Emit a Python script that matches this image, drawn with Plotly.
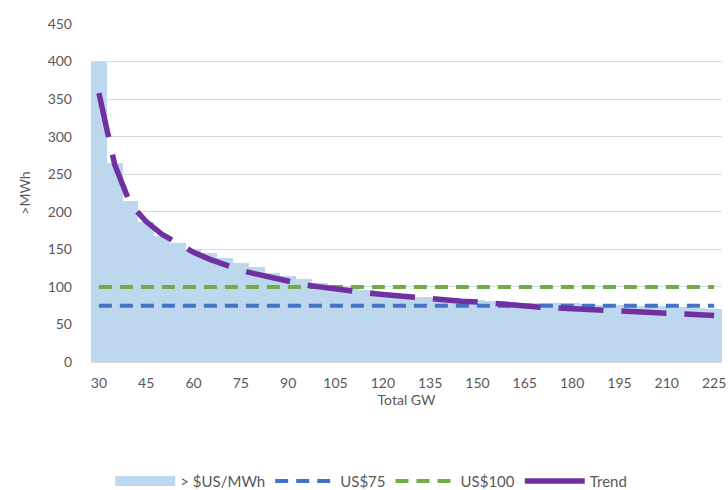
import plotly.graph_objects as go

gw = list(range(30, 230, 5))
price = [400, 265, 215, 186, 168, 158, 150, 145, 138, 132,
         126, 118, 114, 110, 105, 102, 100, 96, 89, 88,
         87, 86, 85, 84, 82, 81, 80, 79, 79, 78,
         78, 77, 76, 76, 75, 75, 74, 73, 72, 70]
trend = [358, 263, 210, 187, 170, 158, 146, 137, 129, 122,
         117, 112, 107, 103, 100, 97, 95, 92, 90, 88,
         86, 85, 83, 81, 80, 78, 77, 75, 73, 72,
         71, 70, 69, 68, 67, 66, 65, 64, 63, 62]
us75 = [75] * len(gw)
us100 = [100] * len(gw)
xticks = list(range(30, 226, 15))
yticks = list(range(0, 451, 50))

FONT = "Lato, 'Open Sans', sans-serif"
GREY = "#595959"
AREA = "#BDD7EE"

fig = go.Figure()
fig.add_trace(go.Bar(x=gw, y=price, width=5, name="> $US/MWh", showlegend=False,
                     marker=dict(color=AREA, line=dict(width=0))))
# legend swatch for the area series
fig.add_trace(go.Scatter(x=[None], y=[None], mode="lines", name="> $US/MWh",
                         legendgroup="a", line=dict(color=AREA, width=16)))
fig.add_trace(go.Scatter(x=gw, y=us75, mode="lines", name="US$75", legendgroup="b",
                         line=dict(color="#4472C4", width=4, dash="13px,8px")))
fig.add_trace(go.Scatter(x=gw, y=us100, mode="lines", name="US$100", legendgroup="c",
                         line=dict(color="#70AD47", width=4, dash="13px,8px")))
fig.add_trace(go.Scatter(x=gw, y=trend, mode="lines", name="Trend", showlegend=False,
                         line=dict(color="#7030A0", width=5.5, dash="45px,18px")))
fig.add_trace(go.Scatter(x=[None], y=[None], mode="lines", name="Trend", legendgroup="d",
                         line=dict(color="#7030A0", width=5.5)))

fig.update_layout(
    width=728, height=490,
    margin=dict(l=91, r=6, t=24, b=128, autoexpand=False),
    paper_bgcolor="white", plot_bgcolor="white",
    font=dict(family=FONT, size=14, color=GREY),
    bargap=0,
    showlegend=True,
    legend=dict(orientation="h", x=0.51, xanchor="center", xref="container",
                y=0.018, yanchor="middle", yref="container",
                font=dict(size=15, color=GREY), itemwidth=60,
                tracegroupgap=25, traceorder="grouped"),
    xaxis=dict(range=[27.5, 227.5], tickvals=xticks, ticktext=[str(v) for v in xticks],
               showgrid=False, zeroline=False, showline=True, linecolor="#D9D9D9",
               ticks="", ticklabelstandoff=8, tickfont=dict(size=14, color=GREY),
               title=dict(text="Total GW", font=dict(size=14, color=GREY), standoff=5)),
    yaxis=dict(range=[0, 450], tickvals=yticks, showgrid=True, gridcolor="#D9D9D9",
               gridwidth=1, zeroline=False, showline=False, ticks="",
               ticklabelstandoff=18, tickfont=dict(size=14, color=GREY),
               title=dict(text=">MWh", font=dict(size=14, color=GREY), standoff=13)),
)

fig.write_html("out.html")
